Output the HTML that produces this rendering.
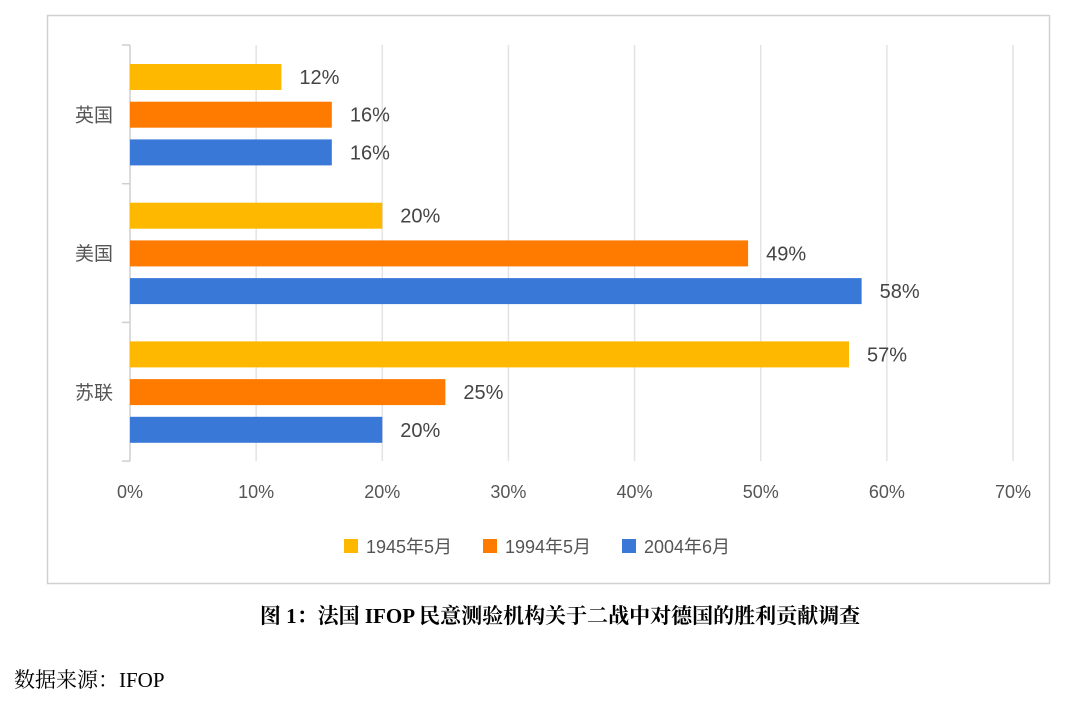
<!DOCTYPE html>
<html><head><meta charset="utf-8"><style>
body{margin:0;background:#fff;width:1080px;height:707px;overflow:hidden;font-family:"Liberation Sans","Noto Sans CJK SC",sans-serif}
svg{position:absolute;left:0;top:0}
</style></head><body>
<svg id="chart" width="1080" height="707" viewBox="0 0 1080 707">
<rect x="47.5" y="15.5" width="1002" height="568" fill="#fff" stroke="#d0d0d0" stroke-width="1.5"/>
<g id="grid"></g><g id="bars"></g><g id="labels"></g>
<g font-size="18" fill="#555">
<rect x="344" y="539" width="14" height="14" fill="#FFB800"/>
<text x="366" y="553">1945年5月</text>
<rect x="483" y="539" width="14" height="14" fill="#FF7B00"/>
<text x="505" y="553">1994年5月</text>
<rect x="622" y="539" width="14" height="14" fill="#3A78D8"/>
<text x="644" y="553">2004年6月</text>
</g>
<text x="560" y="623" text-anchor="middle" font-size="21" font-weight="bold" font-family="'Liberation Serif','Noto Serif CJK SC',serif" fill="#000">图 1：法国 IFOP 民意测验机构关于二战中对德国的胜利贡献调查</text>
<text x="14" y="687" font-size="21" font-family="'Liberation Serif','Noto Serif CJK SC',serif" fill="#000">数据来源：IFOP</text>
</svg>
<script>
const categories=["英国","美国","苏联"];
const seriesNames=["1945年5月","1994年5月","2004年6月"];
const s1945=[12,20,57];
const s1994=[16,49,25];
const s2004=[16,58,20];
const ticks=[0,10,20,30,40,50,60,70];
const colors=["#FFB800","#FF7B00","#3A78D8"];
const NS="http://www.w3.org/2000/svg";
const x0=130,x1=1013,yTop=45,band=138.7;
const xs=v=>x0+(x1-x0)*v/70;
function mk(t,a,p){const e=document.createElementNS(NS,t);for(const k in a)e.setAttribute(k,a[k]);p.appendChild(e);return e;}
const grid=document.getElementById('grid'),bars=document.getElementById('bars'),labels=document.getElementById('labels');
ticks.forEach(t=>{
 const l=mk('line',{x1:xs(t),x2:xs(t),y1:yTop,y2:yTop+band*3,stroke:t===0?'#cfcfcf':'#e3e3e3','stroke-width':1.5},grid);
 
 
 const tx=mk('text',{x:xs(t),y:498,'text-anchor':'middle','font-size':18,fill:'#555'},labels);
 tx.textContent=t+'%';
 
 
});
for(let i=0;i<=3;i++){
 const l=mk('line',{x1:122,x2:130,y1:yTop+band*i,y2:yTop+band*i,stroke:'#cfcfcf','stroke-width':1.5},grid);
 
 
}
const series=[s1945,s1994,s2004];
categories.forEach((c,i)=>{
 const gy=yTop+band*i;
 const ct=mk('text',{x:113,y:gy+band/2+7,'text-anchor':'end','font-size':19,fill:'#555'},labels);
 ct.textContent=c;
 
 
 series.forEach((s,j)=>{
  const y=gy+19+j*37.7;
  const r=mk('rect',{x:x0,y:y,width:xs(s[i])-x0,height:26,fill:colors[j]},bars);
  
  
  const t=mk('text',{x:xs(s[i])+18,y:y+20,'font-size':20,fill:'#444'},labels);
  t.textContent=s[i]+'%';
  
  
 });
});
</script>
</body></html>
